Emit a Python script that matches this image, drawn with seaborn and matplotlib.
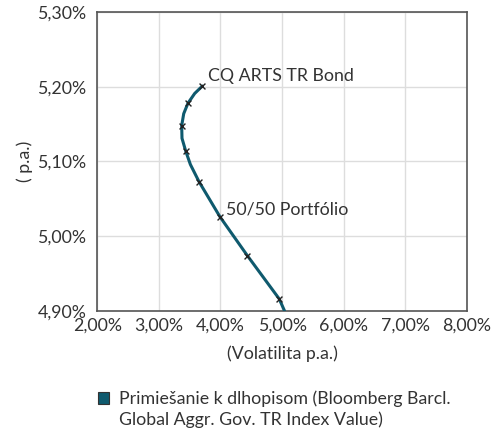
import matplotlib
matplotlib.use("Agg")
from matplotlib import pyplot as plt
from matplotlib.patches import Patch
from matplotlib.ticker import FuncFormatter, MultipleLocator
import pandas as pd
import seaborn as sns

# Efficient frontier (volatility %, return %)
curve_vol = [3.706, 3.581, 3.472, 3.403, 3.370, 3.375, 3.435, 3.511, 3.651,
             3.991, 4.436, 4.954, 5.04]
curve_ret = [5.201, 5.191, 5.178, 5.164, 5.148, 5.131, 5.114, 5.096, 5.073,
             5.026, 4.974, 4.916, 4.90]

# Points marked with an x
mark_vol = [3.706, 3.472, 3.370, 3.435, 3.651, 3.991, 4.436, 4.954]
mark_ret = [5.201, 5.178, 5.148, 5.114, 5.073, 5.026, 4.974, 4.916]

label_top = "CQ ARTS TR Bond"
label_mid = "50/50 Portfólio"
legend_lines = ["Primiešanie k dlhopisom (Bloomberg Barcl.",
                "Global Aggr. Gov. TR Index Value)"]

line_color = "#0f5a6e"
fs = 12.8

sns.set_theme(style="whitegrid")
plt.rcParams["font.family"] = ["Lato", "DejaVu Sans"]
plt.rcParams["font.size"] = fs

curve = pd.DataFrame({"vol": curve_vol, "ret": curve_ret})
marks = pd.DataFrame({"vol": mark_vol, "ret": mark_ret})

fig = plt.figure(figsize=(4.94, 4.30), dpi=100)
ax = fig.add_axes([0.197, 0.277, 0.748, 0.695])

sns.lineplot(data=curve, x="vol", y="ret", sort=False, color=line_color,
             linewidth=2.2, ax=ax, zorder=3)
sns.scatterplot(data=marks, x="vol", y="ret", marker="x", color="#222222",
                s=18, linewidth=1.0, ax=ax, zorder=4)

ax.set_xlim(2.0, 8.0)
ax.set_ylim(4.90, 5.30)
ax.xaxis.set_major_locator(MultipleLocator(1.0))
ax.yaxis.set_major_locator(MultipleLocator(0.1))
ax.xaxis.set_major_formatter(FuncFormatter(lambda v, p: f"{v:.2f}%".replace(".", ",")))
ax.yaxis.set_major_formatter(FuncFormatter(lambda v, p: f"{v:.2f}%".replace(".", ",")))

ax.grid(True, color="#dddddd", linewidth=1.0)
for s in ax.spines.values():
    s.set_color("#555555")
    s.set_linewidth(1.2)
ax.tick_params(axis="both", labelsize=fs, colors="#333333", length=0)
ax.tick_params(axis="x", pad=5)
ax.tick_params(axis="y", pad=8)

ax.set_xlabel("(Volatilita p.a.)", fontsize=fs, color="#333333", labelpad=8)
ax.set_ylabel("( p.a.)", fontsize=fs, color="#333333", labelpad=3)

ax.text(3.80, 5.214, label_top, fontsize=fs, color="#333333", va="center", ha="left")
ax.text(4.09, 5.036, label_mid, fontsize=fs, color="#333333", va="center", ha="left")

# Legend: patch beside the first line, second line wraps under the text
handles = [Patch(facecolor=line_color, edgecolor="#333333", linewidth=0.8),
           Patch(facecolor="none", edgecolor="none")]
fig.legend(handles, legend_lines, loc="upper left", bbox_to_anchor=(0.183, 0.108),
           frameon=False, fontsize=fs, handlelength=0.65, handleheight=0.65,
           handletextpad=0.55, labelcolor="#333333", borderaxespad=0,
           labelspacing=0.25)

fig.savefig("out.png", dpi=100)
